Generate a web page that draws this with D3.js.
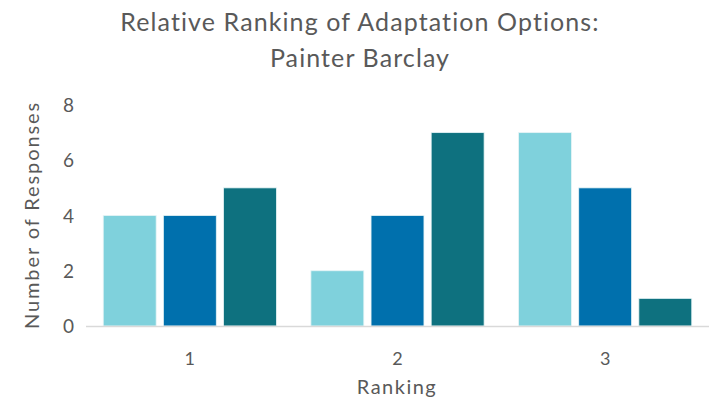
<!DOCTYPE html>
<html><head><meta charset="utf-8">
<script src="https://cdn.jsdelivr.net/npm/d3@7"></script>
<style>body{margin:0;background:#fff}svg{display:block}text{font-family:Lato,"Open Sans",sans-serif;fill:#595959}</style>
</head><body><svg id="c" width="719" height="407"></svg>
<script>
const categories = ["1","2","3"];
const seriesNames = ["Option A","Option B","Option C"];
const seriesA = [4,2,7];
const seriesB = [4,4,5];
const seriesC = [5,7,1];
const yTicks = [0,2,4,6,8];
const colors = ["#7fd1dc","#0070ad","#0e717f"];

const svg = d3.select("#c");
const m = {l:86, r:10, t:105, b:81};
const W = 719, H = 407;
const x0 = d3.scaleBand().domain(categories).range([m.l, W-m.r]).paddingInner(0.166).paddingOuter(0.083);
const x1 = d3.scaleBand().domain(seriesNames).range([0, x0.bandwidth()]).paddingInner(0.12);
const y = d3.scaleLinear().domain([0,8]).range([H-m.b, m.t]);
const series = [seriesA, seriesB, seriesC];

const data = [];
categories.forEach((c,i)=>series.forEach((s,j)=>data.push({c, s:seriesNames[j], v:s[i], col:colors[j]})));

svg.append("g").selectAll("rect").data(data).join("rect")
  .attr("x", d=>x0(d.c)+x1(d.s)).attr("width", x1.bandwidth())
  .attr("y", d=>y(d.v)).attr("height", d=>y(0)-y(d.v))
  .attr("fill", d=>d.col).attr("stroke","#e6f4f6").attr("stroke-width",0.8);

svg.append("line").attr("x1",m.l).attr("x2",W-m.r).attr("y1",y(0)+0.5).attr("y2",y(0)+0.5)
  .attr("stroke","#d9d9d9").attr("stroke-width",1.5);

const ya = svg.append("g").attr("transform",`translate(${m.l-12},0)`)
  .call(d3.axisLeft(y).tickValues(yTicks).tickSize(0).tickPadding(0));
ya.select(".domain").remove();
ya.selectAll("text").style("font-size","19px").attr("fill","#595959").attr("dy","0.35em");

const xa = svg.append("g").attr("transform",`translate(0,${y(0)})`)
  .call(d3.axisBottom(x0).tickSize(0).tickPadding(26));
xa.select(".domain").remove();
xa.selectAll("text").style("font-size","18px").attr("fill","#595959");

svg.append("text").attr("x",397).attr("y",394).attr("text-anchor","middle").style("font-size","20px").style("letter-spacing","1.5px").text("Ranking");
svg.append("text").attr("transform","translate(39,215) rotate(-90)").attr("text-anchor","middle").style("font-size","20px").style("letter-spacing","1.9px").text("Number of Responses");
svg.append("text").attr("x",360).attr("y",31).attr("text-anchor","middle").style("font-size","25px").style("letter-spacing","1.1px").text("Relative Ranking of Adaptation Options:");
svg.append("text").attr("x",360).attr("y",67).attr("text-anchor","middle").style("font-size","25px").style("letter-spacing","1.1px").text("Painter Barclay");
</script></body></html>
